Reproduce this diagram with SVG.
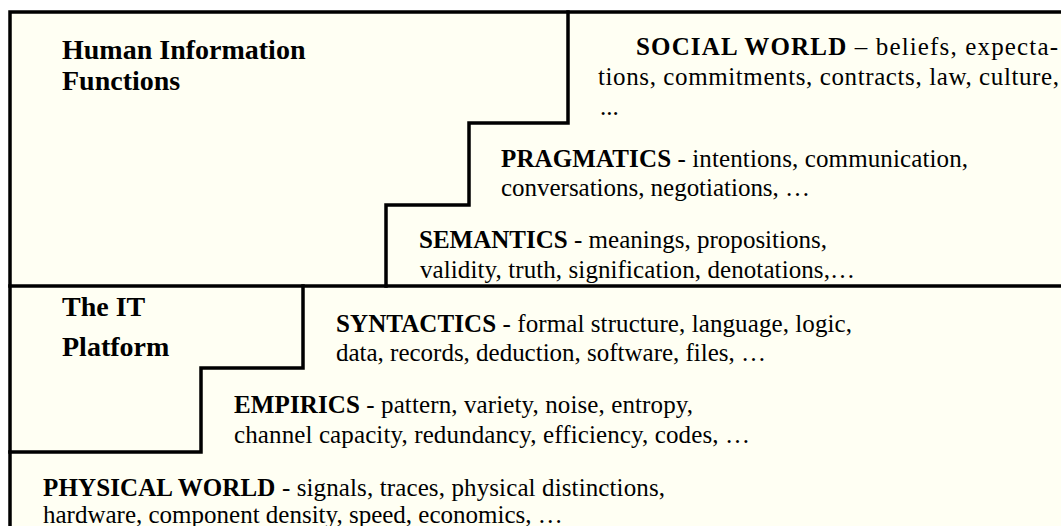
<svg xmlns="http://www.w3.org/2000/svg" width="1061" height="526" viewBox="0 0 1061 526">
<style>
.ln{fill:none;stroke:#000;stroke-width:3.5;stroke-linejoin:miter;stroke-linecap:square}
.hd{font-family:"Liberation Serif","Times New Roman",serif;font-weight:bold;font-size:28px;fill:#000}
.tx{font-family:"Liberation Serif","Times New Roman",serif;font-size:25px;fill:#000}
.b{font-weight:bold}
</style>
<rect x="0" y="0" width="1061" height="526" fill="#ffffff"/>
<rect x="10" y="12" width="1051" height="514" fill="#fffff3"/>
<g id="borders">
<path class="ln" d="M10,526 V12 H1063"/>
<path class="ln" d="M568,12 V123 H469 V205 H386 V286"/>
<path class="ln" d="M10,286 H1063"/>
<path class="ln" d="M303,286 V368 H201 V452 H10"/>
</g>
<g id="human">
<text class="hd" x="62" y="59">Human Information</text>
<text class="hd" x="62" y="90">Functions</text>
</g>
<g id="social">
<text class="tx" x="636" y="55" textLength="422" lengthAdjust="spacing"><tspan class="b">SOCIAL WORLD</tspan> – beliefs, expecta-</text>
<text class="tx" x="598" y="85" textLength="461" lengthAdjust="spacing">tions, commitments, contracts, law, culture,</text>
<text class="tx" x="600" y="115">...</text>
</g>
<g id="pragmatics">
<text class="tx" x="501" y="167" textLength="467" lengthAdjust="spacing"><tspan class="b">PRAGMATICS</tspan> - intentions, communication,</text>
<text class="tx" x="501" y="196" textLength="309" lengthAdjust="spacing">conversations, negotiations, …</text>
</g>
<g id="semantics">
<text class="tx" x="419" y="248" textLength="408" lengthAdjust="spacing"><tspan class="b">SEMANTICS</tspan> - meanings, propositions,</text>
<text class="tx" x="420" y="278" textLength="435" lengthAdjust="spacing">validity, truth, signification, denotations,…</text>
</g>
<g id="itplatform">
<text class="hd" x="62" y="316">The IT</text>
<text class="hd" x="62" y="356">Platform</text>
</g>
<g id="syntactics">
<text class="tx" x="336" y="332" textLength="516" lengthAdjust="spacing"><tspan class="b">SYNTACTICS</tspan> - formal structure, language, logic,</text>
<text class="tx" x="336" y="361" textLength="430" lengthAdjust="spacing">data, records, deduction, software, files, …</text>
</g>
<g id="empirics">
<text class="tx" x="234" y="413" textLength="459" lengthAdjust="spacing"><tspan class="b">EMPIRICS</tspan> - pattern, variety, noise, entropy,</text>
<text class="tx" x="234" y="443" textLength="516" lengthAdjust="spacing">channel capacity, redundancy, efficiency, codes, …</text>
</g>
<g id="physical">
<text class="tx" x="43" y="496" textLength="622" lengthAdjust="spacing"><tspan class="b">PHYSICAL WORLD</tspan> - signals, traces, physical distinctions,</text>
<text class="tx" x="43" y="523">hardware, component density, speed, economics, …</text>
</g>
</svg>
